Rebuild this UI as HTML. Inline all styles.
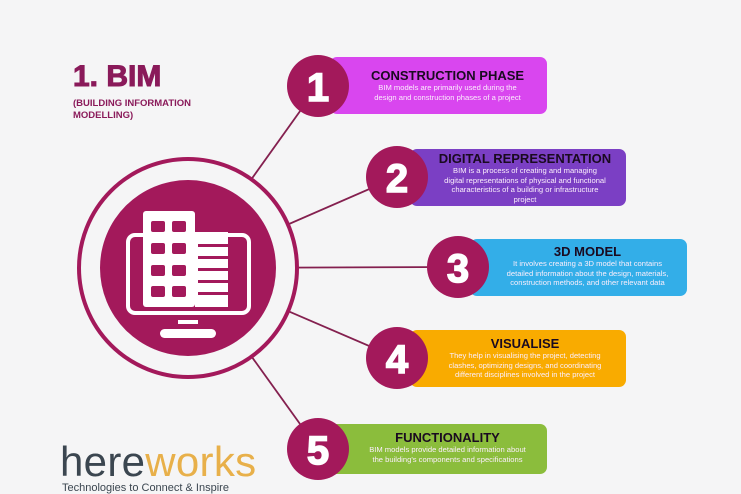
<!DOCTYPE html>
<html><head><style>
body{margin:0;width:741px;height:486px;background:#f5f5f6;overflow:hidden;position:relative;font-family:"Liberation Sans",sans-serif}
.box{position:absolute;border-radius:7px;color:#fff;text-align:center}
.box h3{margin:0;font-size:13px;font-weight:bold;color:#1a0a20;line-height:15px}
.box p{margin:0;font-size:7.6px;line-height:9.5px;color:#fbeefc}
.t{position:absolute}
</style></head><body>
<svg width="741" height="486" style="position:absolute;left:0;top:0">
<g stroke="#84204f" stroke-width="1.8">
<line x1="188" y1="268" x2="318" y2="86"/>
<line x1="188" y1="268" x2="397" y2="177"/>
<line x1="188" y1="268" x2="458" y2="267"/>
<line x1="188" y1="268" x2="397" y2="358"/>
<line x1="188" y1="268" x2="318" y2="449"/>
</g>
<circle cx="188" cy="268" r="109" fill="#f5f5f6" stroke="#a3195b" stroke-width="4"/>
<circle cx="188" cy="268" r="88" fill="#a3195b"/>
<rect x="128" y="235" width="121" height="78" rx="7" fill="none" stroke="#fff" stroke-width="4"/>
<rect x="143" y="211" width="52" height="96" rx="3" fill="#fff"/>
<rect x="195" y="232" width="33" height="75" fill="#fff"/>
<g fill="#a3195b">
<rect x="151" y="221" width="14" height="11" rx="2"/><rect x="172" y="221" width="14" height="11" rx="2"/>
<rect x="151" y="243" width="14" height="11" rx="2"/><rect x="172" y="243" width="14" height="11" rx="2"/>
<rect x="151" y="265" width="14" height="11" rx="2"/><rect x="172" y="265" width="14" height="11" rx="2"/>
<rect x="151" y="286" width="14" height="11" rx="2"/><rect x="172" y="286" width="14" height="11" rx="2"/>
<rect x="198" y="244" width="30" height="3"/><rect x="198" y="256" width="30" height="3"/>
<rect x="198" y="268" width="30" height="3"/><rect x="198" y="280" width="30" height="3"/><rect x="198" y="292" width="30" height="3"/>
</g>
<rect x="178" y="320" width="20" height="4" fill="#fff"/>
<rect x="160" y="329" width="56" height="9" rx="4.5" fill="#fff"/>
</svg>
<div class="t" style="left:73px;top:60px;font-size:30px;font-weight:bold;color:#8a1a5a;-webkit-text-stroke:1px #8a1a5a">1. BIM</div>
<div class="t" style="left:73px;top:98px;font-size:9.5px;font-weight:bold;color:#8a1a5a;line-height:12px">(BUILDING INFORMATION<br>MODELLING)</div>

<div class="box" style="left:330px;top:57px;width:217px;height:57px;background:#d946ef"><div style="margin-left:18px;padding-top:11px"><h3>CONSTRUCTION PHASE</h3><p>BIM models are primarily used during the<br>design and construction phases of a project</p></div></div>
<div class="box" style="left:410px;top:149px;width:216px;height:57px;background:#7b3fc4"><div style="margin-left:14px;padding-top:2px"><h3>DIGITAL REPRESENTATION</h3><p>BIM is a process of creating and managing<br>digital representations of physical and functional<br>characteristics of a building or infrastructure<br>project</p></div></div>
<div class="box" style="left:470px;top:239px;width:217px;height:57px;background:#33aee8"><div style="margin-left:18px;padding-top:5px"><h3>3D MODEL</h3><p>It involves creating a 3D model that contains<br>detailed information about the design, materials,<br>construction methods, and other relevant data</p></div></div>
<div class="box" style="left:410px;top:330px;width:216px;height:57px;background:#f9ab00"><div style="margin-left:14px;padding-top:6px"><h3>VISUALISE</h3><p>They help in visualising the project, detecting<br>clashes, optimizing designs, and coordinating<br>different disciplines involved in the project</p></div></div>
<div class="box" style="left:330px;top:424px;width:217px;height:50px;background:#8bbd3c"><div style="margin-left:18px;padding-top:6px"><h3>FUNCTIONALITY</h3><p>BIM models provide detailed information about<br>the building's components and specifications</p></div></div>

<svg width="741" height="486" style="position:absolute;left:0;top:0">
<g fill="#a3195b"><circle cx="318" cy="86" r="31"/><circle cx="397" cy="177" r="31"/><circle cx="458" cy="267" r="31"/><circle cx="397" cy="358" r="31"/><circle cx="318" cy="449" r="31"/></g>
<g fill="#fff" stroke="#fff" stroke-width="1.5" font-family="Liberation Sans" font-weight="bold" font-size="40" text-anchor="middle">
<text x="318" y="101">1</text><text x="397" y="192">2</text><text x="458" y="282">3</text><text x="397" y="373">4</text><text x="318" y="464">5</text></g>
</svg>
<div class="t" style="left:60px;top:440px;font-size:42px;letter-spacing:0.3px;line-height:44px"><span style="color:#3b4650">here</span><span style="color:#e8b04a">works</span></div>
<div class="t" style="left:62px;top:482px;font-size:11px;color:#3b4650">Technologies to Connect &amp; Inspire</div>
</body></html>
